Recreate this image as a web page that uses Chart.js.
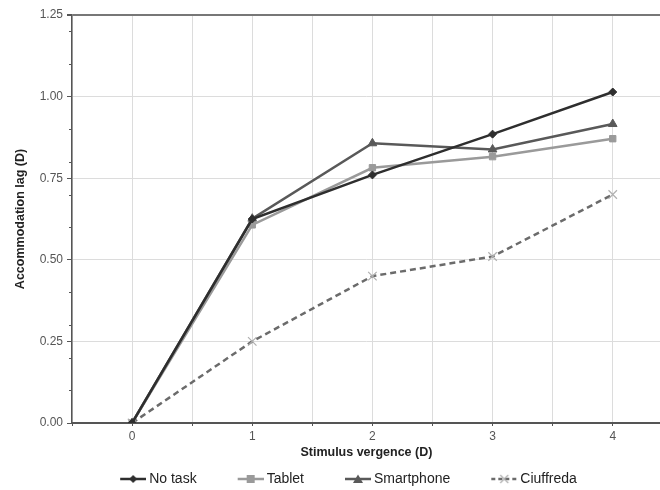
<!DOCTYPE html>
<html>
<head>
<meta charset="utf-8">
<script src="https://cdn.jsdelivr.net/npm/chart.js@4.4.1/dist/chart.umd.min.js"></script>
<style>
  html, body { margin: 0; padding: 0; background: #fff; overflow: hidden; }
</style>
</head>
<body>
<canvas id="lagChart" width="668" height="490"></canvas>
<script>
// Stimulus vergence (D) on the x axis
const vergence = [0, 1, 2, 3, 4];

// Accommodation lag (D) for each condition
const noTask     = [0, 0.625, 0.76, 0.885, 1.014];
const tablet     = [0, 0.607, 0.782, 0.816, 0.871];
const smartphone = [0, 0.626, 0.857, 0.838, 0.916];
const ciuffreda  = [0, 0.25, 0.45, 0.51, 0.70];

// axis ticks
const xGridValues = [-0.5, 0, 0.5, 1, 1.5, 2, 2.5, 3, 3.5, 4];
const yTickValues = [0, 0.25, 0.5, 0.75, 1.0, 1.25];
const yMinorValues = [0.1, 0.2, 0.3, 0.4, 0.6, 0.7, 0.8, 0.9, 1.1, 1.2];

const toPoints = ys => vergence.map((x, i) => ({ x: x, y: ys[i] }));

const BOX_W = 51;

// small picture for a legend item: line sample with the marker on it
function legendIcon(color, marker, markerColor, dashed) {
  const c = document.createElement('canvas');
  c.width = BOX_W + 8; c.height = 12;
  const g = c.getContext('2d');
  const x1 = c.width, x0 = x1 - 26, cx = x1 - 13, cy = 6;
  g.strokeStyle = color;
  g.lineWidth = 2.5;
  if (dashed) g.setLineDash([4, 3]);
  g.beginPath(); g.moveTo(x0, cy); g.lineTo(x1, cy); g.stroke();
  g.setLineDash([]);
  g.fillStyle = markerColor;
  g.strokeStyle = markerColor;
  if (marker === 'rectRot') {
    g.beginPath(); g.moveTo(cx, cy - 4); g.lineTo(cx + 4, cy); g.lineTo(cx, cy + 4); g.lineTo(cx - 4, cy); g.closePath(); g.fill();
  } else if (marker === 'rect') {
    g.fillRect(cx - 4, cy - 4, 8, 8);
  } else if (marker === 'triangle') {
    g.beginPath(); g.moveTo(cx, cy - 4.5); g.lineTo(cx + 5, cy + 4); g.lineTo(cx - 5, cy + 4); g.closePath(); g.fill();
  } else {
    g.lineWidth = 1.2;
    g.beginPath(); g.moveTo(cx - 4, cy - 4); g.lineTo(cx + 4, cy + 4); g.moveTo(cx + 4, cy - 4); g.lineTo(cx - 4, cy + 4); g.stroke();
  }
  return c;
}

const series = [
  { label: 'No task', data: noTask, color: '#2e2e2e', marker: 'rectRot', mColor: '#2e2e2e', size: 4, dash: [] },
  { label: 'Tablet', data: tablet, color: '#9a9a9a', marker: 'rect', mColor: '#9a9a9a', size: 4.5, dash: [] },
  { label: 'Smartphone', data: smartphone, color: '#595959', marker: 'triangle', mColor: '#595959', size: 5, dash: [] },
  { label: 'Ciuffreda', data: ciuffreda, color: '#6b6b6b', marker: 'crossRot', mColor: '#b0b0b0', size: 6, dash: [6, 4] }
];

// minor tick marks on the y axis
const minorTicks = {
  id: 'minorTicks',
  afterDraw(chart) {
    const y = chart.scales.y;
    const g = chart.ctx;
    g.save();
    g.strokeStyle = '#555';
    g.lineWidth = 1;
    yMinorValues.forEach(v => {
      const py = Math.round(y.getPixelForValue(v)) + 0.5;
      g.beginPath(); g.moveTo(y.right - 3, py); g.lineTo(y.right, py); g.stroke();
    });
    g.restore();
  }
};

const ctx = document.getElementById('lagChart').getContext('2d');

const lagChart = new Chart(ctx, {
  type: 'line',
  data: {
    datasets: series.map(s => ({
      label: s.label,
      data: toPoints(s.data),
      borderColor: s.color,
      backgroundColor: s.mColor,
      pointBorderColor: s.mColor,
      pointBackgroundColor: s.mColor,
      borderWidth: 2.5,
      borderDash: s.dash,
      pointStyle: s.marker,
      pointRadius: s.size,
      pointBorderWidth: s.marker === 'crossRot' ? 1.2 : 1,
      tension: 0,
      fill: false,
      legendIcon: legendIcon(s.color, s.marker, s.mColor, s.dash.length > 0)
    }))
  },
  plugins: [minorTicks],
  options: {
    responsive: false,
    animation: false,
    layout: { padding: { top: 15, right: 0, bottom: 0, left: 0 } },
    plugins: {
      tooltip: { enabled: false },
      legend: {
        position: 'bottom',
        maxHeight: 30,
        labels: {
          usePointStyle: true,
          pointStyleWidth: BOX_W,
          padding: 12,
          color: '#222',
          font: { family: 'Liberation Sans, Arial, sans-serif', size: 14 },
          generateLabels(chart) {
            return chart.data.datasets.map((d, i) => ({
              text: d.label,
              pointStyle: d.legendIcon,
              fillStyle: d.borderColor,
              strokeStyle: d.borderColor,
              lineWidth: 0,
              fontColor: '#222',
              datasetIndex: i,
              hidden: false
            }));
          }
        }
      }
    },
    scales: {
      x: {
        type: 'linear',
        min: -0.5,
        max: 4.4,
        afterBuildTicks(scale) {
          scale.ticks = xGridValues.map(v => ({ value: v }));
        },
        afterFit(scale) { scale.height = 37; },
        ticks: {
          autoSkip: false,
          maxRotation: 0,
          padding: 3,
          color: '#555',
          font: { family: 'Liberation Sans, Arial, sans-serif', size: 12 },
          callback: v => Number.isInteger(v) ? String(v) : ''
        },
        grid: {
          color: '#dcdcdc',
          lineWidth: 1,
          tickLength: 3,
          tickColor: '#555'
        },
        border: { color: '#555', width: 2 },
        title: {
          display: true,
          text: 'Stimulus vergence (D)',
          color: '#222',
          padding: { top: 2, bottom: 0 },
          font: { family: 'Liberation Sans, Arial, sans-serif', size: 12.5, weight: 'bold' }
        }
      },
      y: {
        min: 0,
        max: 1.25,
        afterBuildTicks(scale) {
          scale.ticks = yTickValues.map(v => ({ value: v }));
        },
        afterFit(scale) { scale.width = 72; },
        ticks: {
          padding: 4,
          color: '#555',
          font: { family: 'Liberation Sans, Arial, sans-serif', size: 12 },
          callback: v => v.toFixed(2)
        },
        grid: {
          color: c => (c.tick && c.tick.value === 1.25) ? '#777' : '#dcdcdc',
          lineWidth: c => (c.tick && c.tick.value === 1.25) ? 2 : 1,
          tickLength: 5,
          tickColor: '#555'
        },
        border: { color: '#555', width: 1.5 },
        title: {
          display: true,
          text: 'Accommodation lag (D)',
          color: '#222',
          padding: { top: 13, bottom: 2 },
          font: { family: 'Liberation Sans, Arial, sans-serif', size: 12.5, weight: 'bold' }
        }
      }
    }
  }
});
</script>
</body>
</html>
